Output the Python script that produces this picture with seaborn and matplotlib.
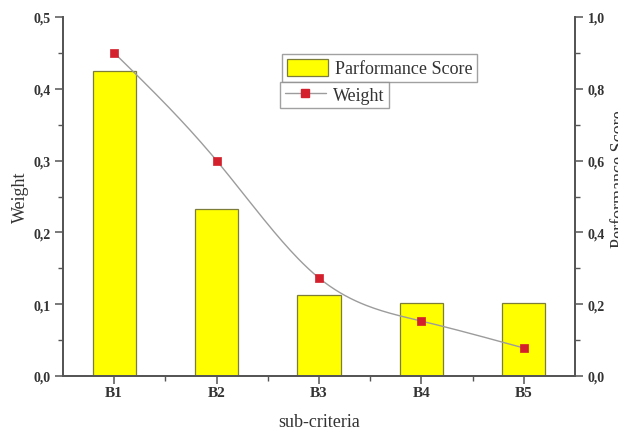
import numpy as np
import pandas as pd
import matplotlib
matplotlib.use("Agg")
import matplotlib.pyplot as plt
from matplotlib.ticker import MultipleLocator, FuncFormatter, FixedLocator
from matplotlib.patches import Patch
from matplotlib.lines import Line2D
import seaborn as sns

# sub-criteria and their values
categories = ["B1", "B2", "B3", "B4", "B5"]
bar_values = [0.425, 0.233, 0.113, 0.101, 0.101]      # left axis (bars)
line_values = [0.90, 0.60, 0.273, 0.153, 0.078]       # right axis (line)

bar_label = "Parformance Score"
line_label = "Weight"

sns.set_style("ticks")
plt.rcParams["font.family"] = ["Liberation Serif", "DejaVu Serif"]

fig = plt.figure(figsize=(6.18, 4.31), dpi=100)
ax = fig.add_axes([63 / 618, 1 - 377 / 431, (575 - 63) / 618, (377 - 18) / 431])

df = pd.DataFrame({"cat": categories, "val": bar_values})
sns.barplot(data=df, x="cat", y="val", ax=ax, color="#ffff00",
            saturation=1, width=0.42, edgecolor="#7d7d3a", linewidth=0.9)

ax.set_xlim(-0.5, 4.5)
ax.set_ylim(0, 0.5)

ax2 = ax.twinx()
ax2.set_ylim(0, 1.0)

# smooth curve through the weight points (natural cubic spline)
xs = np.arange(len(line_values), dtype=float)
ys = np.asarray(line_values, dtype=float)
n = len(xs)
h = np.diff(xs)
A = np.zeros((n, n))
r = np.zeros(n)
A[0, 0] = A[-1, -1] = 1
for i in range(1, n - 1):
    A[i, i - 1] = h[i - 1]
    A[i, i] = 2 * (h[i - 1] + h[i])
    A[i, i + 1] = h[i]
    r[i] = 3 * ((ys[i + 1] - ys[i]) / h[i] - (ys[i] - ys[i - 1]) / h[i - 1])
c = np.linalg.solve(A, r)
xf, yf = [], []
for i in range(n - 1):
    b = (ys[i + 1] - ys[i]) / h[i] - h[i] * (2 * c[i] + c[i + 1]) / 3
    d = (c[i + 1] - c[i]) / (3 * h[i])
    t = np.linspace(0, h[i], 40)
    xf.append(xs[i] + t)
    yf.append(ys[i] + b * t + c[i] * t ** 2 + d * t ** 3)
xf = np.concatenate(xf)
yf = np.concatenate(yf)

line_color = "#9c9c9c"
marker_color = "#d4202c"
ax2.plot(xf, yf, color=line_color, lw=1.0, zorder=3)
sns.scatterplot(x=xs, y=ys, ax=ax2, marker="s", s=38, color=marker_color,
                edgecolor=marker_color, linewidth=0.5, zorder=4, legend=False)

# formatting
comma = FuncFormatter(lambda v, p: f"{v:.1f}".replace(".", ","))
spine_color = "#555555"
for a in (ax, ax2):
    for s in a.spines.values():
        s.set_color(spine_color)
        s.set_linewidth(1.3)
    a.spines["top"].set_visible(False)

ax.yaxis.set_major_locator(MultipleLocator(0.1))
ax.yaxis.set_minor_locator(MultipleLocator(0.05))
ax.yaxis.set_major_formatter(comma)
ax2.yaxis.set_major_locator(MultipleLocator(0.2))
ax2.yaxis.set_minor_locator(MultipleLocator(0.1))
ax2.yaxis.set_major_formatter(comma)
ax.xaxis.set_minor_locator(FixedLocator([0.5, 1.5, 2.5, 3.5]))

for a in (ax, ax2):
    a.tick_params(axis="both", which="major", direction="out", length=6,
                  width=1.1, color=spine_color, labelsize=10, pad=3)
    a.tick_params(axis="both", which="minor", direction="out", length=3.5,
                  width=1.0, color=spine_color)
for lab in ax.get_xticklabels() + ax.get_yticklabels() + ax2.get_yticklabels():
    lab.set_fontweight("bold")
    lab.set_color("#333333")
ax.tick_params(axis="x", labelsize=11, pad=1.5)

ax.set_xlabel("sub-criteria", fontsize=13, color="#333333")
ax.xaxis.set_label_coords(0.5, -0.104)
ax.set_ylabel("Weight", fontsize=13, color="#333333")
ax.yaxis.set_label_coords(-0.066, 0.5)
ax2.set_ylabel("Performance Score", fontsize=13, color="#333333", rotation=90)
ax2.yaxis.set_label_coords(1.070, 0.55)

# legends in two separate boxes
leg_kw = dict(frameon=True, fancybox=False, fontsize=13, borderaxespad=0,
              borderpad=0.25, handletextpad=0.4, labelspacing=0.2)
h1 = Patch(facecolor="#ffff00", edgecolor="#7d7d3a", linewidth=0.9)
leg1 = fig.legend([h1], [bar_label], loc="upper left",
                  bbox_to_anchor=(282 / 618, 1 - 55 / 431),
                  handlelength=2.3, handleheight=1.1, **leg_kw)
h2 = Line2D([0], [0], color=line_color, lw=1.0, marker="s", markersize=6,
            markerfacecolor=marker_color, markeredgecolor=marker_color)
leg2 = fig.legend([h2], [line_label], loc="upper left",
                  bbox_to_anchor=(280 / 618, 1 - 83 / 431),
                  handlelength=2.3, **leg_kw)
for lg in (leg1, leg2):
    fr = lg.get_frame()
    fr.set_edgecolor("#8a8a8a")
    fr.set_linewidth(1.0)
    for t in lg.get_texts():
        t.set_color("#333333")

fig.savefig("out.png", dpi=100)
